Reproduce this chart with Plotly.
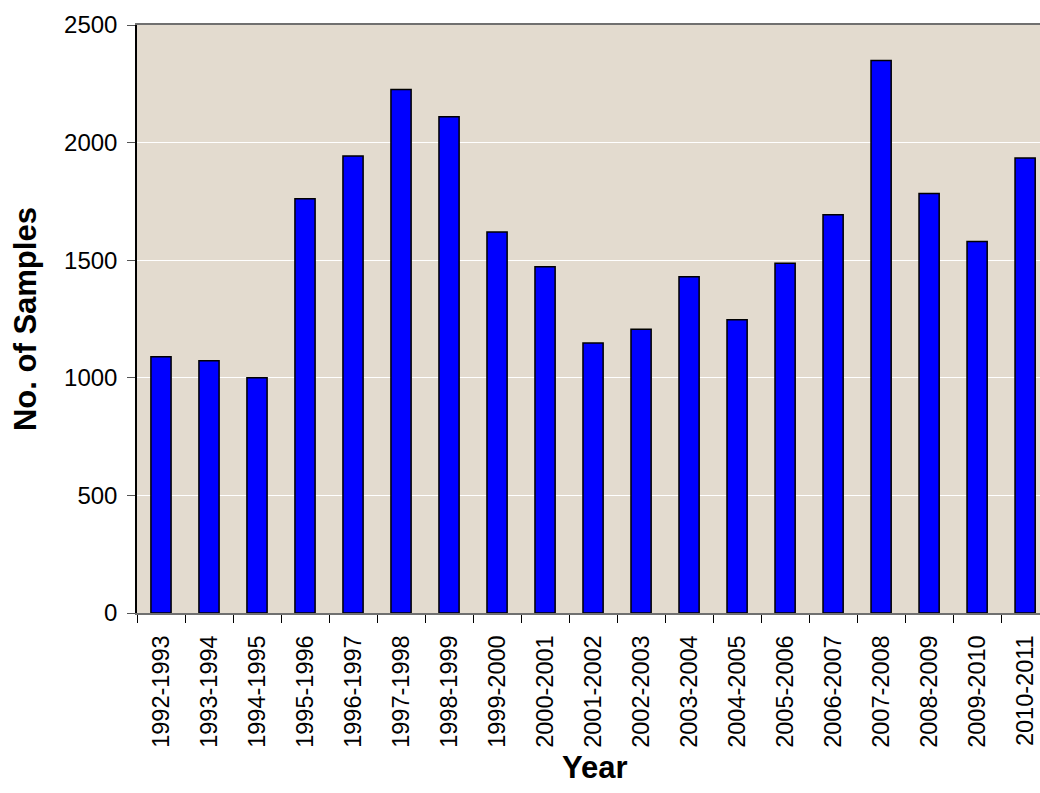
import plotly.graph_objects as go

# Season labels and sample counts
seasons = [
    "1992-1993", "1993-1994", "1994-1995", "1995-1996", "1996-1997",
    "1997-1998", "1998-1999", "1999-2000", "2000-2001", "2001-2002",
    "2002-2003", "2003-2004", "2004-2005", "2005-2006", "2006-2007",
    "2007-2008", "2008-2009", "2009-2010", "2010-2011",
]
samples = [
    1090, 1073, 1000, 1761, 1943,
    2226, 2110, 1620, 1472, 1148,
    1206, 1430, 1247, 1487, 1693,
    2349, 1784, 1579, 1934,
]
y_ticks = [0, 500, 1000, 1500, 2000, 2500]

FONT = "Liberation Sans, Arial, sans-serif"

fig = go.Figure(
    go.Bar(
        x=seasons,
        y=samples,
        width=0.42,
        marker=dict(color="#0000FF", line=dict(color="#000000", width=1.5)),
    )
)

fig.update_layout(
    width=1040,
    height=793,
    margin=dict(l=137, r=0, t=25, b=180),
    paper_bgcolor="white",
    plot_bgcolor="#E3DBCF",
    showlegend=False,
    font=dict(family=FONT, size=24, color="black"),
    bargap=0.58,
)

fig.update_xaxes(
    type="category",
    range=[-0.5, 18.31],
    tickangle=-90,
    ticks="outside",
    tickson="boundaries",
    ticklen=8,
    tickcolor="#000000",
    ticklabelstandoff=11,
    showline=True,
    linecolor="#707070",
    linewidth=2,
    mirror=True,
    showgrid=False,
    tickfont=dict(family=FONT, size=23.5, color="black"),
)

fig.update_yaxes(
    range=[0, 2500],
    tickvals=y_ticks,
    ticks="outside",
    ticklen=8,
    tickcolor="#555555",
    ticklabelstandoff=5,
    showline=True,
    linecolor="#000000",
    linewidth=1.5,
    showgrid=True,
    gridcolor="white",
    gridwidth=1,
    zeroline=False,
    tickfont=dict(family=FONT, size=24, color="black"),
)

# Axis titles
fig.add_annotation(
    text="<b>Year</b>", xref="paper", yref="paper",
    x=0.507, y=-0.263, xanchor="center", yanchor="middle",
    showarrow=False, font=dict(family=FONT, size=31, color="black"),
)
fig.add_annotation(
    text="<b>No. of Samples</b>", xref="paper", yref="paper",
    x=-0.124, y=0.5, xanchor="center", yanchor="middle", textangle=-90,
    showarrow=False, font=dict(family=FONT, size=31, color="black"),
)

fig.write_html("out.html")
